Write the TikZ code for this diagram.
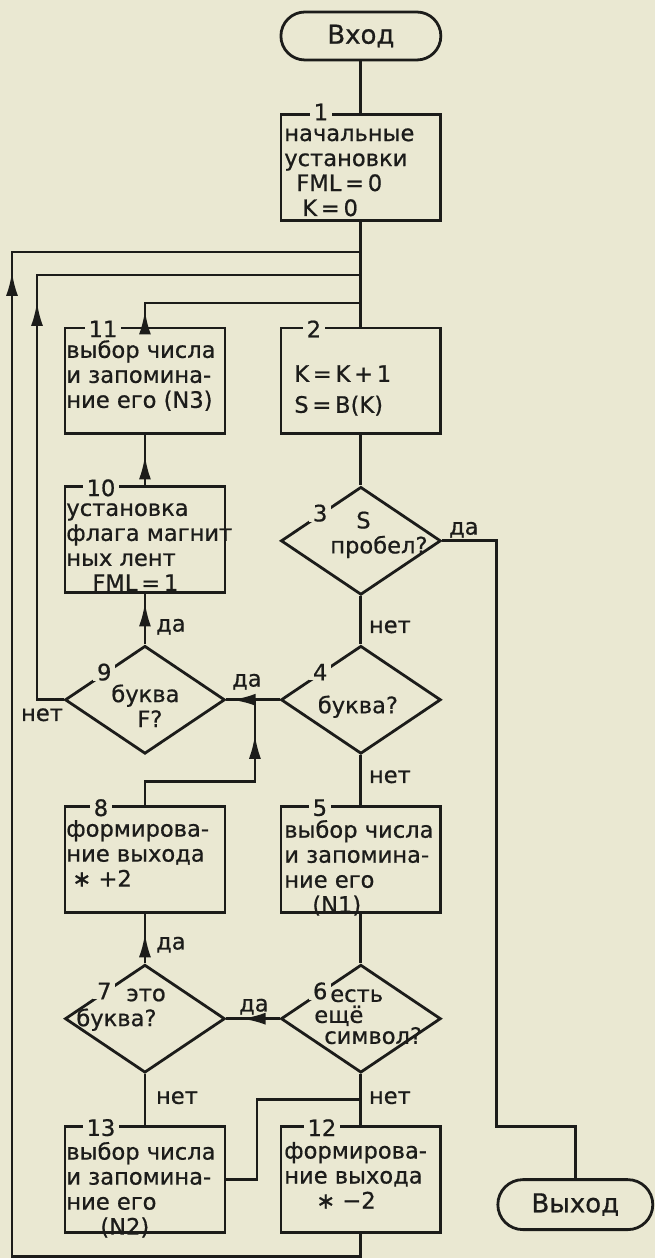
\documentclass[tikz,border=0pt]{standalone}
\usepackage{fontspec}
\setmainfont{DejaVu Sans}[FakeBold=0.7]
\usepackage{tikz}
\usetikzlibrary{shapes.geometric, arrows.meta, decorations.markings}
\definecolor{paper}{RGB}{234,232,210}
\definecolor{ink}{RGB}{28,28,26}
\tikzstyle{blk}=[draw, rectangle, minimum width=80pt, minimum height=53pt, inner sep=0pt]
\tikzstyle{dia}=[draw, diamond, minimum width=80pt, minimum height=54pt, inner sep=0pt]
\tikzstyle{term}=[draw, rectangle, rounded corners=12pt, minimum width=80pt, minimum height=24pt,
  font=\fontsize{13}{14}\selectfont]
\tikzstyle{txt}=[anchor=north west, align=left, inner sep=0pt]
\tikzstyle{num}=[fill=paper, inner xsep=2pt, inner ysep=0pt]
\tikzstyle{yn}=[inner sep=0pt]
\tikzset{dirtip/.style={postaction={decorate,decoration={markings,
  mark=at position #1 with {\arrow{Latex[length=12pt,width=6pt]}}}}}}

\begin{document}
\begin{tikzpicture}[x=0.5pt,y=-0.5pt,line width=1.4pt,color=ink,
    font=\fontsize{11.3}{12.5}\selectfont]
  \fill[paper] (0,0) rectangle (655,1258);
  % blocks
  \node[term] (vhod) at (361,36) {Вход};
  \node[blk] (b1) at (361,167.5) {};
  \node[blk] (b2) at (361,381) {};
  \node[blk] (b11) at (145,381) {};
  \node[dia] (d3) at (361,541) {};
  \node[blk] (b10) at (145,540) {};
  \node[dia] (d9) at (145,700) {};
  \node[dia] (d4) at (361,700) {};
  \node[blk] (b8) at (145,860) {};
  \node[blk] (b5) at (361,860) {};
  \node[dia] (d7) at (145,1019) {};
  \node[dia] (d6) at (361,1019) {};
  \node[blk] (b13) at (145,1180) {};
  \node[blk] (b12) at (361,1180) {};
  \node[term,minimum width=77.5pt,minimum height=25pt,rounded corners=12.5pt] (vyhod) at (575.5,1205) {Выход};

  % numbers
  \node[num] (n1) at (321,112) {1};
  \node[num] (n2) at (314,329) {2};
  \node[num] (n11) at (103,329) {11};
  \node[num] (n10) at (101,488) {10};
  \node[num] (n8) at (101,808) {8};
  \node[num] (n5) at (320,808) {5};
  \node[num] (n13) at (101,1128) {13};
  \node[num] (n12) at (322,1128) {12};
  \node[num] (n3) at (d3.north west) {3};
  \node[num] (n4) at (d4.north west) {4};
  \node[num] (n9) at (d9.north west) {9};
  \node[num] (n6) at (d6.north west) {6};
  \node[num] (n7) at (d7.north west) {7};

  % texts
  \node[txt] (t1) at (283,127) {начальные\\установки\\\hspace*{6pt}FML\,=\,0\\\hspace*{9pt}K\,=\,0};
  \node[txt] (t2) at (293,364) {K\,=\,K\,+\,1\\[3pt]S\,=\,B(K)};
  \node[txt] (t11) at (65,339) {выбор числа\\и запомина-\\ние его (N3)};
  \node[txt] (t10) at (65,502) {установка\\флага магнит\\ных лент\\\hspace*{13pt}FML\,=\,1};
  \node[txt] (t8) at (65,819) {формирова-\\ние выхода\\\hspace*{3pt}∗ +2};
  \node[txt] (t5) at (283,819) {выбор числа\\и запомина-\\ние его\\\hspace*{14pt}(N1)};
  \node[txt] (t13) at (65,1141) {выбор числа\\и запомина-\\ние его\\\hspace*{17pt}(N2)};
  \node[txt] (t12) at (283,1141) {формирова-\\ние выхода\\\hspace*{16pt}∗ −2};
  \node[anchor=west, align=left, inner sep=0pt] (t3) at (329,535) {\hspace*{13pt}S\\пробел?};
  \node[inner sep=0pt] (t4) at (358,707) {буква?};
  \node[anchor=west, align=left, inner sep=0pt] (t9) at (110,706) {буква\\\hspace*{13pt}F?};
  \node[anchor=west, align=left, inner sep=0pt] (t6) at (313,1017) {\hspace*{8pt}есть\\[-2pt]ещё\\[-2pt]\hspace*{5pt}символ?};
  \node[anchor=west, align=left, inner sep=0pt] (t7) at (75,1010) {\hspace*{25pt}это\\буква?};

  % yes / no
  \node[yn] (y3) at (464,530) {да};
  \node[yn] (m3) at (390,627) {нет};
  \node[yn] (y9) at (171,627) {да};
  \node[yn] (y4) at (247,682) {да};
  \node[yn] (m9) at (42,715) {нет};
  \node[yn] (m4) at (390,777) {нет};
  \node[yn] (y7) at (171,945) {да};
  \node[yn] (y6) at (254,1007) {да};
  \node[yn] (m7) at (177,1098) {нет};
  \node[yn] (m6) at (390,1098) {нет};

  % junctions and corners
  \coordinate (j1) at (361,252);
  \coordinate (j2) at (361,275);
  \coordinate (j3) at (361,303);
  \coordinate (j4) at (255,700);
  \coordinate (j5) at (361,1100);
  \coordinate (c1) at (361,1257);
  \coordinate (c2) at (12,1257);
  \coordinate (c3) at (12,252);
  \coordinate (c4) at (37,275);
  \coordinate (c5) at (497,1127);
  \coordinate (c6) at (255,782);
  \coordinate (c7) at (257,1100);

  % connectors
  \draw (vhod) -- (b1);
  \draw (b1) -- (b2);
  \draw (b2) -- (d3);
  \draw (d3) -- (d4);
  \draw (d4) -- (b5);
  \draw (b5) -- (d6);
  \draw (d6) -- (b12);
  \draw (d7) -- (b13);
  \draw[dirtip=15pt] (d7) -- (b8);
  \draw[dirtip=21pt] (d9) -- (b10);
  \draw[dirtip=15pt] (b10) -- (b11);
  \draw[dirtip=24pt] (d4.west) -- (d9.east);
  \draw[dirtip=19pt] (d6.west) -- (d7.east);
  \draw[dirtip=8pt] (b11.north) |- (j3);
  \draw[dirtip=-175.5pt] (d9.west) -| (c4) -- (j2);
  \draw[dirtip=-184.5pt] (b12.south) -- (c1) -- (c2) -- (c3) -- (j1);
  \draw[dirtip=-17.5pt] (b8.north) |- (c6) -- (j4);
  \draw (b13.east) -| (c7) -- (j5);
  \draw (d3.east) -| (c5) -| (vyhod.north);
\end{tikzpicture}
\end{document}
